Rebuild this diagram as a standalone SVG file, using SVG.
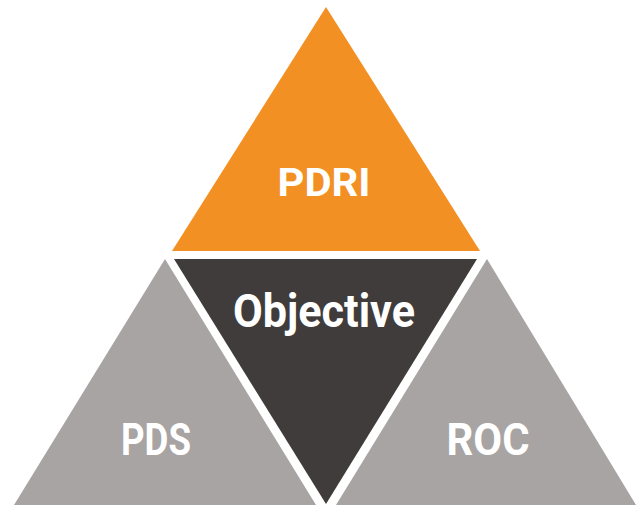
<svg xmlns="http://www.w3.org/2000/svg" width="637" height="505" viewBox="0 0 637 505">
<style>
text{font-family:Roboto,"Liberation Sans",sans-serif;font-weight:bold;fill:#ffffff;text-anchor:middle}
</style>
<rect width="637" height="505" fill="#ffffff"/>
<g id="pdri">
<polygon points="326,7 172,251 480,251" fill="#F39024"/>
<text x="324" y="196" font-size="39" textLength="93" lengthAdjust="spacingAndGlyphs">PDRI</text>
</g>
<g id="objective">
<polygon points="174,259 477,259 326,504" fill="#403C3B"/>
<text x="324" y="327" font-size="46" textLength="182" lengthAdjust="spacingAndGlyphs">Objective</text>
</g>
<g id="pds">
<polygon points="165,259 14,505 316,505" fill="#A7A4A3"/>
<text x="156" y="455" font-size="44" textLength="70" lengthAdjust="spacingAndGlyphs">PDS</text>
</g>
<g id="roc">
<polygon points="487,259 336,505 636,505" fill="#A7A4A3"/>
<text x="488" y="455" font-size="44" textLength="83" lengthAdjust="spacingAndGlyphs">ROC</text>
</g>
<g id="connectors"/>
</svg>
